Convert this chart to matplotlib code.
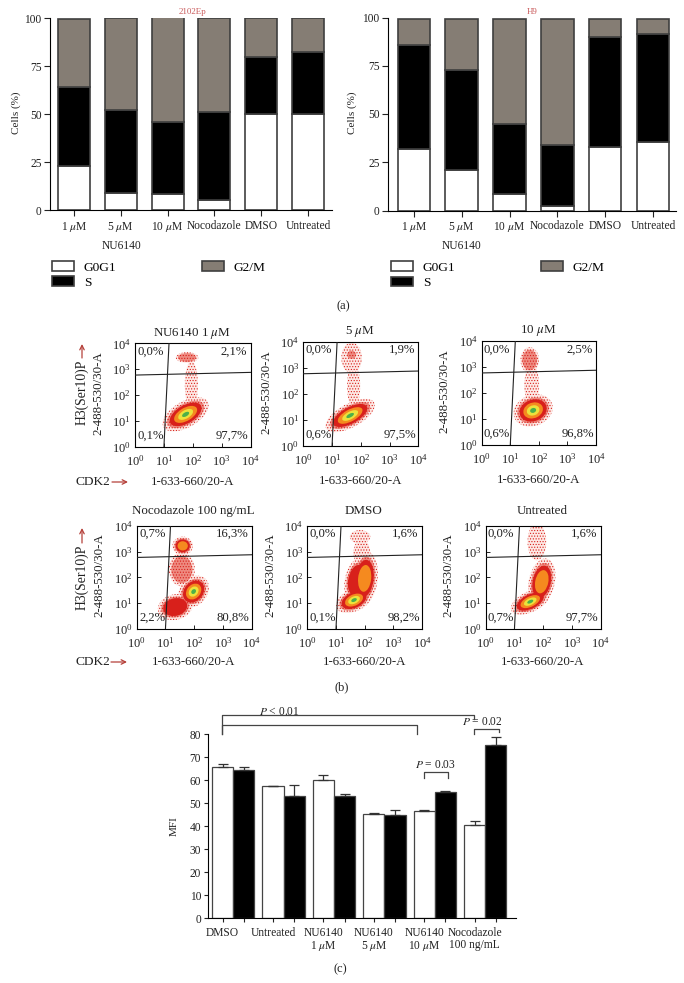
import matplotlib
matplotlib.use("Agg")
import matplotlib.pyplot as plt
from matplotlib.patches import Ellipse
from matplotlib.transforms import Affine2D

plt.rcParams['font.family'] = ['Liberation Serif', 'DejaVu Serif']
plt.rcParams['mathtext.fontset'] = 'stix'
plt.rcParams['hatch.linewidth'] = 0.5

W, H = 684, 983

# panel (a)
doses = ['1 $\\mu$M', '5 $\\mu$M', '10 $\\mu$M', 'Nocodazole', 'DMSO', 'Untreated']
g0g1_2102 = [23, 9, 8.5, 5.5, 50, 50]
s_2102 = [41, 43, 37.5, 45.5, 30, 32.5]
g2m_2102 = [35.5, 48, 54.5, 49, 20, 17.5]
g0g1_h9 = [32, 21, 8.5, 2.3, 33, 35.5]
s_h9 = [54, 52, 36.5, 31.7, 57, 56]
g2m_h9 = [13, 26, 54, 65, 9, 7.5]

# panel (b): corner percentages TL, TR, BL, BR
flow_titles = ['NU6140 1 $\\mu$M', '5 $\\mu$M', '10 $\\mu$M',
               'Nocodazole 100 ng/mL', 'DMSO', 'Untreated']
flow_pcts = [['0,0%', '2,1%', '0,1%', '97,7%'],
             ['0,0%', '1,9%', '0,6%', '97,5%'],
             ['0,0%', '2,5%', '0,6%', '96,8%'],
             ['0,7%', '16,3%', '2,2%', '80,8%'],
             ['0,0%', '1,6%', '0,1%', '98,2%'],
             ['0,0%', '1,6%', '0,7%', '97,7%']]
# populations: log10 x, log10 y, width, height (decades), tilt, density level
flow_pops = [[(1.75, 1.25, 1.4, 0.75, 35, 6), (1.8, 3.45, 0.6, 0.32, 0, 2), (1.95, 2.4, 0.35, 1.4, 0, 1)],
             [(1.63, 1.17, 1.5, 0.68, 32, 6), (1.68, 3.38, 0.55, 0.9, 0, 1), (1.68, 3.5, 0.3, 0.3, 0, 2), (1.75, 2.3, 0.35, 1.3, 0, 1)],
             [(1.8, 1.33, 1.1, 0.9, 30, 6), (1.68, 3.27, 0.5, 0.75, 0, 2), (1.75, 2.3, 0.4, 1.2, 0, 1)],
             [(1.98, 1.45, 0.75, 1.0, -30, 6), (1.34, 0.85, 0.95, 0.75, 20, 3), (1.6, 3.22, 0.55, 0.55, 0, 4), (1.57, 2.3, 0.7, 1.0, 0, 2)],
             [(1.63, 1.12, 1.05, 0.65, 30, 6), (2.0, 1.96, 0.7, 1.6, -5, 4), (1.7, 1.9, 0.6, 1.3, -10, 3), (1.84, 3.57, 0.55, 0.4, 0, 1), (1.9, 2.95, 0.45, 0.8, 0, 1)],
             [(1.55, 1.06, 1.15, 0.6, 30, 6), (1.95, 1.83, 0.7, 1.4, -10, 4), (1.78, 3.38, 0.5, 1.1, 0, 1)]]
ring_scale = [1.3, 1.05, 0.9, 0.65, 0.42, 0.2]
ring_color = ['#fde8e4', '#ee8a80', '#d8201b', '#f58a1f', '#ece23c', '#4cb04a']

# gates, log axes
gate_x = [15, 10]
gate_y = [590, 750]

# panel (c)
mfi_groups = ['DMSO', 'Untreated', 'NU6140\n1 $\\mu$M', 'NU6140\n5 $\\mu$M',
              'NU6140\n10 $\\mu$M', 'Nocodazole\n100 ng/mL']
mfi_white = [66, 57.5, 60.3, 45.3, 46.8, 40.6]
mfi_white_err = [1, 0.1, 2, 0.4, 0.4, 1.9]
mfi_black = [64.3, 53.3, 53.3, 44.8, 55, 75.3]
mfi_black_err = [1.7, 4.5, 0.6, 2.4, 0.5, 3.7]


fig = plt.figure(figsize=(W / 100, H / 100), dpi=100)


def px_axes(left, top, right, bottom):
    return fig.add_axes([left / W, 1 - bottom / H, (right - left) / W, (bottom - top) / H])


def px_text(x, y, s, size=8.3, ha='center', rotation=0, color='#222222'):
    fig.text(x / W, 1 - y / H, s, fontsize=size, ha=ha, va='center', rotation=rotation, color=color)


def px_arrow(x0, y0, x1, y1):
    fig.add_artist(matplotlib.patches.FancyArrowPatch(
        (x0 / W, 1 - y0 / H), (x1 / W, 1 - y1 / H), transform=fig.transFigure,
        arrowstyle='->', mutation_scale=8, lw=0.9, color='#b5403a', shrinkA=0, shrinkB=0))


def stacked(box, lims, g0, s, g2, title, title_x, label_x, leg_x):
    ax = px_axes(*box)
    xs = range(len(doses))
    bottoms = [a + b for a, b in zip(g0, s)]
    for vals, base, col, name in [(g0, 0, 'white', 'G0G1'), (s, g0, 'black', 'S'),
                                  (g2, bottoms, '#857d74', 'G2/M')]:
        ax.bar(xs, vals, 0.68, bottom=base, color=col, edgecolor='#3f3f3f', lw=1.2, label=name)
    ax.set_xlim(*lims)
    ax.set_ylim(0, 100)
    ax.set_yticks([0, 25, 50, 75, 100])
    ax.set_xticks(list(xs))
    ax.set_xticklabels(doses)
    ax.spines[['top', 'right']].set_visible(False)
    ax.spines[['left', 'bottom']].set_linewidth(0.8)
    ax.tick_params(labelsize=8.3, width=0.8, length=4, colors='#222222')
    ax.tick_params(axis='x', pad=3)
    ax.tick_params(axis='y', pad=2)
    ax.legend(ncol=2, loc='upper left', bbox_to_anchor=(leg_x, -0.264), frameon=False,
              fontsize=9.6, handlelength=1.64, handleheight=0.75, handletextpad=0.75,
              labelspacing=0.2, columnspacing=6.4, borderpad=0, borderaxespad=0)
    px_text(title_x, 12, title, size=6.5, color='#c9595a')
    px_text(label_x, 113, 'Cells (%)', size=8, rotation=90)
    return ax


stacked((50, 18.3, 332, 210.3), (-0.51, 5.51), g0g1_2102, s_2102, g2m_2102, '2102Ep', 193, 16, 0.007)
stacked((388, 17.5, 676, 210.5), (-0.54, 5.48), g0g1_h9, s_h9, g2m_h9, 'H9', 532, 352, 0.01)
px_text(122, 246, 'NU6140')
px_text(462, 246, 'NU6140')
px_text(343, 306, '(a)', size=9)

flow_boxes = [(135, 343.3, 250.7, 446.7), (303.3, 341.7, 418.3, 446), (481.7, 341, 596, 445),
              (136.7, 525.7, 251.7, 629), (307.3, 525.7, 422, 629), (485.7, 525.7, 600.7, 629)]

for i, box in enumerate(flow_boxes):
    ax = px_axes(*box)
    ax.set_xscale('log')
    ax.set_yscale('log')
    ax.set_xlim(1, 1e4)
    ax.set_ylim(1, 1e4)
    decades = Affine2D().scale(0.25) + ax.transAxes
    for ring in range(6):
        for x, y, w, h, ang, level in flow_pops[i]:
            if ring >= level:
                continue
            sc = ring_scale[ring]
            # the two outer rings are stippled, like the sparse dots of the plot
            style = dict(edgecolor='#d8201b', hatch='......', lw=0) if ring < 2 else dict(lw=0)
            ax.add_patch(Ellipse((x, y), w * sc, h * sc, angle=ang, transform=decades,
                                 facecolor=ring_color[ring], zorder=1 + ring, **style))
    ax.plot(gate_x, [1e4, 1], color='#222222', lw=0.8, zorder=8)
    ax.plot([1, 1e4], gate_y, color='#222222', lw=0.8, zorder=8)
    for spine in ax.spines.values():
        spine.set_linewidth(0.8)
    ax.tick_params(which='major', direction='in', length=3, width=0.7, labelsize=9, pad=3, colors='#222222')
    ax.tick_params(which='minor', direction='in', length=1.5, width=0.4)
    ax.tick_params(axis='x', which='major', pad=5)
    ax.set_xticks([1, 10, 100, 1000, 10000])
    ax.set_yticks([1, 10, 100, 1000, 10000])
    tl, tr, bl, br = flow_pcts[i]
    ax.text(0.02, 0.92, tl, transform=ax.transAxes, fontsize=9.2, ha='left', va='center', zorder=9, color='#222222')
    ax.text(0.97, 0.92, tr, transform=ax.transAxes, fontsize=9.2, ha='right', va='center', zorder=9, color='#222222')
    ax.text(0.02, 0.11, bl, transform=ax.transAxes, fontsize=9.2, ha='left', va='center', zorder=9, color='#222222')
    ax.text(0.98, 0.11, br, transform=ax.transAxes, fontsize=9.2, ha='right', va='center', zorder=9, color='#222222')
    left, top, right, bottom = box
    centre = (left + right) / 2
    px_text(centre - 1, top - 10 - (5 if i > 2 else 0), flow_titles[i], size=9.4)
    px_text(left - 37, (top + bottom) / 2 - 2, '2-488-530/30-A', size=9.3, rotation=90)
    px_text(centre - 0.5, bottom + (35 if i < 3 else 33), '1-633-660/20-A', size=9.3)

px_text(82, 392, 'H3(Ser10)P', rotation=90, size=9.9)
px_text(82, 577, 'H3(Ser10)P', rotation=90, size=9.9)
px_arrow(82, 358, 82, 344)
px_arrow(82, 543, 82, 528)
px_text(76, 482, 'CDK2', ha='left', size=9.6)
px_text(75, 662, 'CDK2', ha='left', size=9.6)
px_arrow(112, 482, 128, 482)
px_arrow(111, 662, 127, 662)
px_text(342, 687, '(b)', size=9)

ax = px_axes(208, 734.3, 516, 918.3)
bar_w = 0.42
x_white = [i - bar_w / 2 for i in range(len(mfi_groups))]
x_black = [i + bar_w / 2 for i in range(len(mfi_groups))]
err_kw = dict(ecolor='#333333', elinewidth=0.9, capsize=3.5, capthick=0.9)
ax.bar(x_white, mfi_white, bar_w, color='white', edgecolor='#444444', lw=0.9,
       yerr=[[0] * 6, mfi_white_err], error_kw=err_kw)
ax.bar(x_black, mfi_black, bar_w, color='black', edgecolor='#444444', lw=0.9,
       yerr=[[0] * 6, mfi_black_err], error_kw=err_kw)
ax.set_xlim(-0.5, 5.61)
ax.set_ylim(0, 80)
ax.set_yticks(range(0, 81, 10))
ticks = sorted(x_white + x_black)
ax.set_xticks(ticks)
ax.set_xticklabels([lab for g in mfi_groups for lab in (g, '')], linespacing=1.0)
ax.spines[['top', 'right']].set_visible(False)
ax.spines[['left', 'bottom']].set_linewidth(0.8)
ax.tick_params(labelsize=8.3, width=0.8, length=3, colors='#222222')
ax.tick_params(axis='y', pad=2)
ax.tick_params(axis='x', pad=3)
px_text(174, 826, 'MFI', size=8, rotation=90)


def bracket(x0, x1, y, y0, y1):
    ax.plot([x0, x0, x1, x1], [y0, y, y, y1], color='#444444', lw=0.9, clip_on=False, zorder=5)


bracket(-0.22, 4.785, 88.4, 80, 86.6)
bracket(-0.22, 3.64, 84, 80, 80)
bracket(4.785, 5.27, 82.3, 80, 81)
bracket(3.78, 4.26, 63.5, 60.9, 60.9)
ax.text(0.91, 89.5, '$P$ < 0.01', fontsize=8.3, ha='center', va='center', clip_on=False, color='#222222')
ax.text(4.94, 85.2, '$P$ = 0.02', fontsize=8.3, ha='center', va='center', clip_on=False, color='#222222')
ax.text(4.02, 66.8, '$P$ = 0.03', fontsize=8.3, ha='center', va='center', clip_on=False, color='#222222')
px_text(340, 969, '(c)', size=9)

fig.savefig('out.png', dpi=100)
